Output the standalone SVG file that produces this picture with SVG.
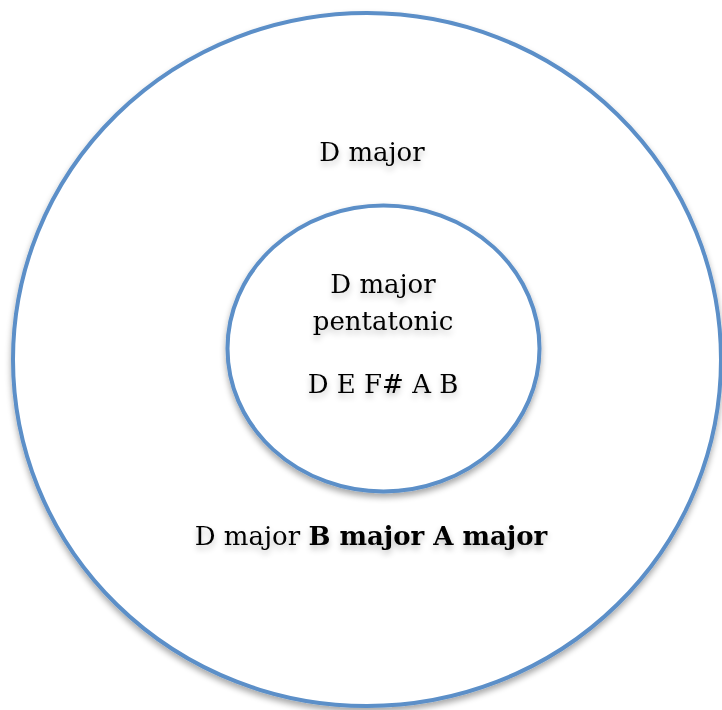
<svg xmlns="http://www.w3.org/2000/svg" width="722" height="710" viewBox="0 0 722 710">
<defs>
<filter id="sh" x="-10%" y="-10%" width="120%" height="125%">
<feGaussianBlur in="SourceAlpha" stdDeviation="3"/>
<feOffset dx="0" dy="4" result="b"/>
<feComponentTransfer><feFuncA type="linear" slope="0.35"/></feComponentTransfer>
<feMerge><feMergeNode/><feMergeNode in="SourceGraphic"/></feMerge>
</filter>
<filter id="tsh" x="-10%" y="-30%" width="120%" height="180%">
<feGaussianBlur in="SourceAlpha" stdDeviation="3"/>
<feOffset dx="0" dy="4"/>
<feComponentTransfer><feFuncA type="linear" slope="0.25"/></feComponentTransfer>
<feMerge><feMergeNode/><feMergeNode in="SourceGraphic"/></feMerge>
</filter>
</defs>
<style>
.c{fill:#fff;stroke:#5b8fc8;stroke-width:4}
.t{font-family:"DejaVu Serif","Liberation Serif",serif;font-size:26px;fill:#000;text-anchor:middle}
</style>
<g id="outer">
<ellipse class="c" cx="367" cy="359.5" rx="354" ry="346.5" filter="url(#sh)"/>
<text class="t" x="372" y="161" filter="url(#tsh)">D major</text>
<text class="t" x="371" y="545" filter="url(#tsh)">D major <tspan font-weight="bold">B major A major</tspan></text>
</g>
<g id="inner">
<ellipse class="c" cx="383.5" cy="348.5" rx="156" ry="143" filter="url(#sh)"/>
<text class="t" x="383" y="293" filter="url(#tsh)">D major</text>
<text class="t" x="383" y="330" filter="url(#tsh)">pentatonic</text>
<text class="t" x="383" y="393" filter="url(#tsh)">D E F# A B</text>
</g>
</svg>
